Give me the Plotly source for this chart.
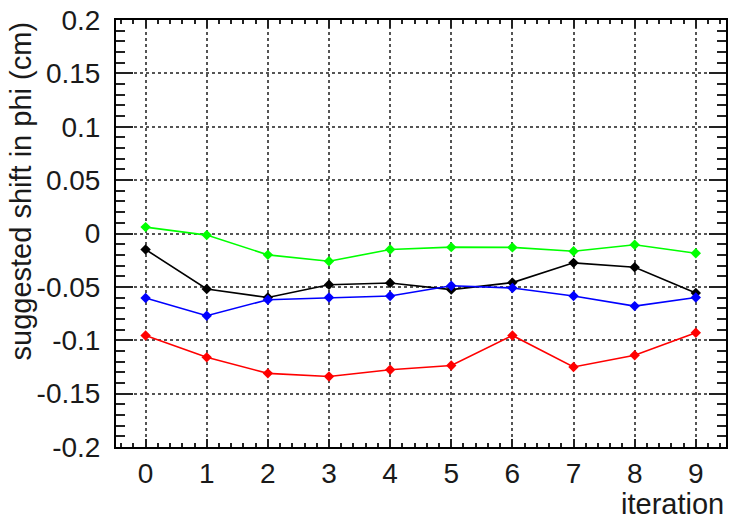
import plotly.graph_objects as go

# iteration index and suggested phi shift (cm) for each series
iterations = [0, 1, 2, 3, 4, 5, 6, 7, 8, 9]
shift_black = [-0.015, -0.052, -0.060, -0.048, -0.0463, -0.0526, -0.046, -0.0275, -0.0316, -0.0557]
shift_red = [-0.0955, -0.116, -0.131, -0.134, -0.1277, -0.1236, -0.0955, -0.125, -0.114, -0.093]
shift_green = [0.006, -0.0015, -0.020, -0.026, -0.015, -0.0128, -0.013, -0.0166, -0.0106, -0.0185]
shift_blue = [-0.0604, -0.077, -0.062, -0.060, -0.0585, -0.049, -0.051, -0.0585, -0.068, -0.060]

y_tick_vals = [-0.2, -0.15, -0.1, -0.05, 0, 0.05, 0.1, 0.15, 0.2]
y_tick_text = ["-0.2", "-0.15", "-0.1", "-0.05", "0", "0.05", "0.1", "0.15", "0.2"]
x_tick_vals = [0, 1, 2, 3, 4, 5, 6, 7, 8, 9]
x_tick_text = ["0", "1", "2", "3", "4", "5", "6", "7", "8", "9"]

FONT = "Liberation Sans, Arial, Helvetica, sans-serif"

fig = go.Figure()
for ys, col in [(shift_black, "#000000"), (shift_red, "#ff0000"),
                (shift_green, "#00ff00"), (shift_blue, "#0000ff")]:
    fig.add_trace(go.Scatter(
        x=iterations, y=ys, mode="lines+markers",
        line=dict(color=col, width=1.6),
        marker=dict(symbol="diamond", size=8, color=col),
        showlegend=False,
    ))

axis_common = dict(
    showline=True, linecolor="#000000", linewidth=2, mirror="ticks",
    ticks="inside", tickcolor="#222222", tickwidth=2,
    showgrid=True, gridcolor="#555555", griddash="dot", gridwidth=1.5,
    zeroline=False,
    tickfont=dict(family=FONT, size=28, color="#1a1a1a"),
)

fig.update_xaxes(
    **axis_common,
    range=[-0.484, 9.494],
    tickvals=x_tick_vals, ticktext=x_tick_text,
    ticklen=8, ticklabelstandoff=0,
    minor=dict(dtick=0.2, tick0=0, ticks="inside", ticklen=4,
               tickcolor="#222222", tickwidth=2, showgrid=False),
)
fig.update_yaxes(
    **axis_common,
    range=[-0.2, 0.2],
    tickvals=y_tick_vals, ticktext=y_tick_text,
    ticklen=17, ticklabelstandoff=8,
    minor=dict(dtick=0.01, tick0=0, ticks="inside", ticklen=9,
               tickcolor="#222222", tickwidth=2, showgrid=False),
)

fig.add_annotation(
    text="iteration", xref="paper", yref="paper",
    x=0.999, y=-0.174, xanchor="right", yanchor="bottom",
    borderpad=0,
    showarrow=False, font=dict(family=FONT, size=29, color="#1a1a1a"),
)
fig.add_annotation(
    text="suggested shift in phi (cm)", xref="paper", yref="paper",
    x=-0.155, y=1.0, xanchor="center", yanchor="top", textangle=-90,
    showarrow=False, font=dict(family=FONT, size=29, color="#1a1a1a"),
)

fig.update_layout(
    width=729, height=521,
    margin=dict(l=116, r=1, t=20, b=74),
    plot_bgcolor="#ffffff", paper_bgcolor="#ffffff",
)

fig.write_html("out.html")
